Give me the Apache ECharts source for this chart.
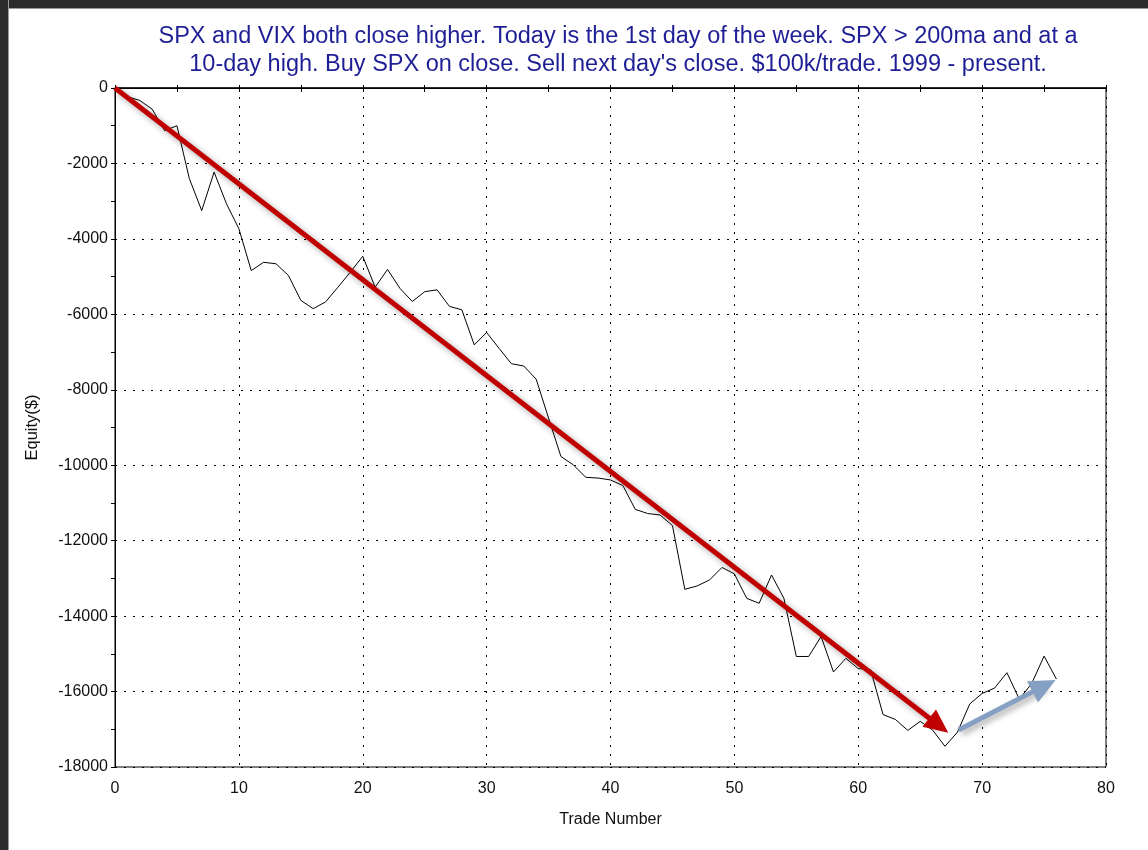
<!DOCTYPE html>
<html>
<head>
<meta charset="utf-8">
<title>SPX equity curve</title>
<script src="https://cdn.jsdelivr.net/npm/echarts@6/dist/echarts.min.js"></script>
<style>
  html, body { margin: 0; padding: 0; background: #fff; }
  .frame { position: relative; width: 1148px; height: 850px; overflow: hidden; }
  #chart-equity { width: 1148px; height: 850px; }
  .bar-top { position: absolute; left: 0; top: 0; width: 1148px; height: 8px; background: #2b2b2b; border-bottom: 1px solid #9a9a9a; }
  .bar-left { position: absolute; left: 0; top: 0; width: 8px; height: 850px; background: #2b2b2b; border-right: 1px solid #9a9a9a; }
</style>
</head>
<body>
<div class="frame">
  <div id="chart-equity"></div>
  <div class="bar-top"></div>
  <div class="bar-left"></div>
</div>
<script>
// equity after each trade, trade 0 .. 76
var equity = [
  0, -230, -330, -560, -1130, -1000, -2400, -3250, -2230, -3070,
  -3730, -4840, -4620, -4660, -4970, -5630, -5850, -5670, -5280, -4880,
  -4460, -5280, -4810, -5310, -5660, -5400, -5350, -5790, -5880, -6810,
  -6480, -6900, -7310, -7370, -7720, -8750, -9770, -9990, -10320, -10340,
  -10390, -10540, -11170, -11280, -11320, -11600, -13290, -13200, -13040, -12710,
  -12880, -13530, -13660, -12910, -13530, -15070, -15070, -14540, -15480, -15120,
  -15390, -15420, -16610, -16740, -17030, -16790, -17020, -17450, -17080, -16330,
  -16050, -15910, -15500, -16200, -15790, -15060, -15670
];
var xTicks = [0, 10, 20, 30, 40, 50, 60, 70, 80];
var yLabelStep = 2000;
// annotation arrows: [start, end] in trade / equity units
var redArrow = [[0, 0], [66.5, -16900]];
var blueArrow = [[68.1, -17020], [75.0, -15850]];

var titleText = 'SPX and VIX both close higher. Today is the 1st day of the week. SPX > 200ma and at a\n' +
  '10-day high. Buy SPX on close. Sell next day\'s close. $100k/trade. 1999 - present.';

var points = equity.map(function (v, i) { return [i, v]; });
var font = 'Liberation Sans, Arial, sans-serif';
var dots = { color: '#000', width: 1, type: [2, 7] };

var myChart = echarts.init(document.getElementById('chart-equity'));
myChart.setOption({
  animation: false,
  backgroundColor: '#fff',
  title: {
    text: titleText,
    left: 613,
    top: 18,
    textAlign: 'center',
    textStyle: { fontFamily: font, fontSize: 23.5, fontWeight: 'normal', color: '#1f1f95', lineHeight: 28 }
  },
  grid: { left: 115, right: 42, top: 88, bottom: 83, show: true, borderColor: '#000', borderWidth: 1 },
  xAxis: [
    {
      type: 'value', position: 'bottom', min: xTicks[0], max: xTicks[xTicks.length - 1], interval: 10,
      name: 'Trade Number', nameLocation: 'middle', nameGap: 45,
      nameTextStyle: { fontFamily: font, fontSize: 16, color: '#111' },
      axisLine: { show: true, lineStyle: { color: '#111', width: 1.5 } },
      axisTick: { show: false },
      axisLabel: { fontFamily: font, fontSize: 16, color: '#111', margin: 14 },
      splitLine: { show: true, lineStyle: dots }
    },
    {
      type: 'value', position: 'top', min: 0, max: 80, interval: 5,
      axisLine: { show: true, lineStyle: { color: '#000' } },
      axisTick: { show: true, inside: true, length: 4, lineStyle: { color: '#000' } },
      axisLabel: { show: false }, splitLine: { show: false }
    },
    {
      type: 'value', position: 'top', min: 0, max: 80, interval: 5,
      axisLine: { show: false },
      axisTick: { show: true, inside: false, length: 3, lineStyle: { color: '#000' } },
      axisLabel: { show: false }, splitLine: { show: false }
    }
  ],
  yAxis: [
    {
      type: 'value', min: -18000, max: 0, interval: 1000,
      name: 'Equity($)', nameLocation: 'middle', nameGap: 74, nameRotate: 90,
      nameTextStyle: { fontFamily: font, fontSize: 16.5, color: '#111' },
      axisLine: { show: true, lineStyle: { color: '#000' } },
      axisTick: { show: true, length: 4, lineStyle: { color: '#000' } },
      axisLabel: {
        fontFamily: font, fontSize: 16, color: '#111', margin: 7,
        formatter: function (v) { return v % yLabelStep === 0 ? String(v) : ''; }
      },
      splitLine: { show: false }
    },
    {
      type: 'value', min: -18000, max: 0, interval: yLabelStep,
      axisLine: { show: false }, axisTick: { show: false }, axisLabel: { show: false },
      splitLine: { show: true, lineStyle: dots }
    },
    {
      type: 'value', min: -18000, max: 0, interval: 1000,
      axisLine: { show: false },
      axisTick: { show: true, inside: true, length: 4, lineStyle: { color: '#000' } },
      axisLabel: { show: false }, splitLine: { show: false }
    }
  ],
  series: [
    {
      name: 'Equity',
      type: 'line',
      data: points,
      symbol: 'none',
      lineStyle: { color: '#000', width: 1 },
      z: 3
    },
    {
      name: 'arrows',
      type: 'line',
      data: [],
      markLine: {
        silent: true,
        symbol: ['none', 'triangle'],
        symbolSize: [22, 24],
        label: { show: false },
        data: [
          [
            { coord: redArrow[0], lineStyle: { color: '#c00000', width: 5, type: 'solid', shadowColor: 'rgba(0,0,0,0.35)', shadowBlur: 6, shadowOffsetX: 3, shadowOffsetY: 3 }, itemStyle: { color: '#c00000' } },
            { coord: redArrow[1] }
          ],
          [
            { coord: blueArrow[0], lineStyle: { color: '#86a0c4', width: 5, type: 'solid', shadowColor: 'rgba(0,0,0,0.35)', shadowBlur: 6, shadowOffsetX: 3, shadowOffsetY: 3 }, itemStyle: { color: '#7592bb' } },
            { coord: blueArrow[1], symbolSize: [24, 26] }
          ]
        ]
      },
      z: 4
    }
  ]
});
</script>
</body>
</html>
